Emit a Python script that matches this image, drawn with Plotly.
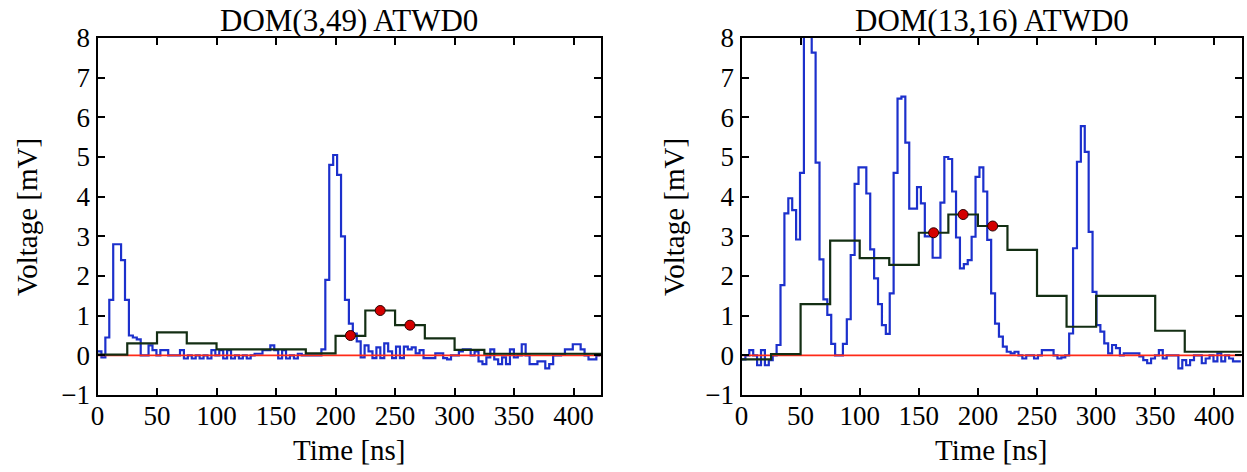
import plotly.graph_objects as go

# ---------------- data ----------------
BIN_NS = 3.3          # ATWD sample width [ns]
COARSE_NS = 25.0      # coarse (green) bin width [ns]

titles = ["DOM(3,49) ATWD0", "DOM(13,16) ATWD0"]
x_ticks = [0, 50, 100, 150, 200, 250, 300, 350, 400]
y_ticks = [-1, 0, 1, 2, 3, 4, 5, 6, 7, 8]

left_wave = [
    0.1, -0.05, 0.45, 1.4, 2.8, 2.8, 2.4, 1.4, 0.5, 0.45,
    0.4, 0.0, 0.0, 0.25, 0.13, 0.0, 0.13, 0.13, 0.0, 0.0,
    0.0, 0.13, -0.08, 0.0, -0.08, 0.0, -0.08, 0.0, -0.08, 0.13,
    0.0, 0.13, -0.08, 0.13, -0.08, 0.0, -0.08, 0.0, -0.08, 0.0,
    0.04, 0.04, 0.13, 0.13, 0.25, 0.13, -0.08, 0.13, -0.08, 0.0,
    -0.08, 0.04, 0.0, 0.0, 0.0, 0.0, 0.0, 0.15, 1.9, 4.8,
    5.05, 4.55, 3.0, 1.4, 0.8, 0.55, 0.35, -0.05, 0.25, 0.1,
    -0.07, 0.2, -0.07, 0.3, 0.1, -0.07, 0.22, -0.07, 0.22, 0.15,
    0.2, 0.05, 0.13, -0.07, -0.07, -0.07, 0.05, 0.05, -0.07, -0.1,
    0.0, 0.0, 0.1, 0.15, 0.15, 0.0, 0.1, -0.15, -0.22, -0.05,
    0.15, -0.1, -0.22, -0.05, -0.22, 0.15, -0.05, 0.0, 0.28, 0.0,
    -0.22, -0.22, -0.15, -0.15, -0.33, -0.22, 0.0, 0.0, 0.03, 0.15,
    0.15, 0.28, 0.28, 0.15, 0.0, -0.1, -0.1, 0.0,
]
left_coarse = [0.02, 0.3, 0.58, 0.3, 0.15, 0.15, 0.15, 0.05, 0.49,
               1.13, 0.76, 0.43, 0.14, 0.04, 0.04, 0.04, 0.04]
left_dots_t = [212.5, 237.5, 262.5]
left_dots_v = [0.5, 1.13, 0.76]

right_wave = [
    -0.1, 0.0, 0.13, 0.0, -0.25, 0.13, -0.25, -0.12, 0.0, 0.26,
    1.77, 3.58, 3.96, 3.66, 2.92, 4.6, 8.6, 8.4, 7.63, 4.86,
    2.42, 1.41, 1.02, 0.29, 0.0, 0.0, 0.29, 0.91, 2.53, 4.32,
    4.74, 4.74, 4.08, 2.67, 1.94, 1.29, 0.76, 0.54, 1.56, 4.6,
    6.47, 6.52, 5.36, 3.7, 3.7, 4.24, 3.83, 3.0, 3.0, 2.46,
    2.46, 3.85, 5.0, 4.95, 4.13, 2.97, 2.19, 2.3, 2.4, 2.99,
    4.5, 4.74, 4.13, 2.91, 1.56, 0.8, 0.47, 0.22, 0.09, 0.05,
    0.09, 0.0, -0.08, 0.0, 0.0, -0.08, 0.0, 0.13, 0.13, 0.13,
    0.0, -0.08, -0.05, 0.0, 0.55, 2.7, 4.88, 5.78, 5.13, 3.11,
    1.6, 0.76, 0.6, 0.3, 0.05, 0.26, 0.18, 0.0, 0.05, 0.05,
    0.05, 0.05, -0.03, -0.12, -0.2, -0.08, 0.0, 0.13, -0.08, 0.0,
    0.0, 0.0, -0.33, -0.12, -0.25, -0.12, 0.0, 0.0, -0.2, -0.08,
    0.0, -0.15, 0.05, -0.15, 0.0, -0.08, -0.15, -0.15,
]
right_coarse = [-0.1, 0.03, 1.29, 2.89, 2.45, 2.28, 3.09, 3.55, 3.26,
                2.66, 1.5, 0.72, 1.5, 1.5, 0.62, 0.09, 0.09]
right_dots_t = [162.5, 187.5, 212.5]
right_dots_v = [3.09, 3.55, 3.26]

# ---------------- style ----------------
FONT = "Liberation Serif"
BLUE = "#1c30cc"
DARK = "#132e13"
RED = "#ff2a18"
W, H = 1247, 472

x_domains = [[97.5 / W, 601 / W], [741.5 / W, 1241.5 / W]]
y_domain = [1 - 395 / H, 1 - 38 / H]
X_RANGE = [0, 423]
Y_RANGE = [-1, 8]


def steps(values, width):
    xs = [i * width for i in range(len(values) + 1)]
    ys = list(values) + [values[-1]]
    return xs, ys


fig = go.Figure()
panels = [
    (left_wave, left_coarse, left_dots_t, left_dots_v),
    (right_wave, right_coarse, right_dots_t, right_dots_v),
]
for k, (wave, coarse, dt, dv) in enumerate(panels):
    xa = "x" if k == 0 else "x2"
    ya = "y" if k == 0 else "y2"
    bx, by = steps(wave, BIN_NS)
    fig.add_trace(go.Scatter(x=bx, y=by, mode="lines", line=dict(color=BLUE, width=2.2, shape="hv"),
                             xaxis=xa, yaxis=ya, showlegend=False, hoverinfo="skip"))
    fig.add_trace(go.Scatter(x=X_RANGE, y=[0, 0], mode="lines", line=dict(color=RED, width=1.8),
                             xaxis=xa, yaxis=ya, showlegend=False, hoverinfo="skip"))
    cx, cy = steps(coarse, COARSE_NS)
    fig.add_trace(go.Scatter(x=cx, y=cy, mode="lines", line=dict(color=DARK, width=2.2, shape="hv"),
                             xaxis=xa, yaxis=ya, showlegend=False, hoverinfo="skip"))
    fig.add_trace(go.Scatter(x=dt, y=dv, mode="markers",
                             marker=dict(color="#d40000", size=10, line=dict(color="#2a0000", width=1)),
                             xaxis=xa, yaxis=ya, showlegend=False, hoverinfo="skip"))

axis_common = dict(showline=True, linewidth=2, linecolor="black", mirror="allticks",
                   ticks="inside", ticklen=7, tickwidth=1.5, tickcolor="black",
                   showgrid=False, zeroline=False,
                   tickfont=dict(family=FONT, size=27, color="black"))

layout = dict(width=W, height=H, margin=dict(l=0, r=0, t=0, b=0, autoexpand=False),
              paper_bgcolor="white", plot_bgcolor="white", showlegend=False)
for k in range(2):
    sx = "" if k == 0 else "2"
    layout["xaxis" + sx] = dict(domain=x_domains[k], range=X_RANGE, tickvals=x_ticks,
                                anchor="y" + sx, ticklabelstandoff=-4, **axis_common)
    layout["yaxis" + sx] = dict(domain=y_domain, range=Y_RANGE, tickvals=y_ticks,
                                anchor="x" + sx, **axis_common)
fig.update_layout(**layout)

ann = []
title_font = dict(family=FONT, size=31, color="black")
label_font = dict(family=FONT, size=29, color="black")
ylab_x = [27 / W, 674 / W]
for k in range(2):
    cx = (x_domains[k][0] + x_domains[k][1]) / 2
    ann.append(dict(text=titles[k], x=cx, y=1 - 20 / H, xref="paper", yref="paper",
                    showarrow=False, xanchor="center", yanchor="middle", font=title_font))
    ann.append(dict(text="Time [ns]", x=cx, y=1 - 450 / H, xref="paper", yref="paper",
                    showarrow=False, xanchor="center", yanchor="middle", font=label_font))
    ann.append(dict(text="Voltage [mV]", x=ylab_x[k], y=1 - 217 / H, xref="paper", yref="paper",
                    showarrow=False, xanchor="center", yanchor="middle", textangle=-90, font=label_font))
fig.update_layout(annotations=ann)

fig.write_html("out.html",
               post_script="document.body.style.margin='0';document.body.style.padding='0';")
